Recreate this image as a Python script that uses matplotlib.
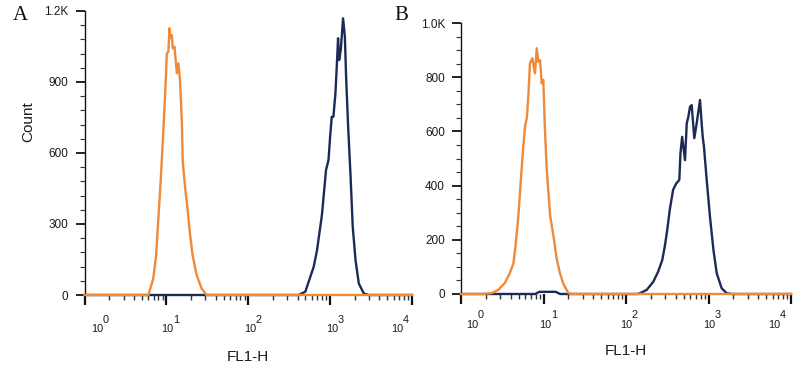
import numpy as np
import matplotlib
matplotlib.use('Agg')
import matplotlib.pyplot as plt
from matplotlib.ticker import FixedLocator, FixedFormatter, LogLocator, NullFormatter, MultipleLocator
import matplotlib.transforms as mtransforms

plt.rcParams['font.family'] = ['Liberation Sans', 'DejaVu Sans']

# ---------------- data (FL1-H channel value, count) ----------------
# Panel A
a_orange_x = [1, 6.03, 6.92, 7.50, 7.94, 8.51, 9.04, 9.48, 9.93, 10.12, 10.59, 10.89, 11.32,
              11.64, 11.97, 12.56, 12.88, 13.43, 14.06, 14.72, 15.45, 15.85, 16.98, 18.11,
              19.50, 20.89, 23.44, 26.92, 30.90, 10000]
a_orange_y = [0, 0, 70, 169, 310, 479, 648, 789, 943, 1021, 1028, 1127, 1085,
              1098, 1042, 1049, 1007, 937, 979, 901, 732, 563, 451, 366,
              253, 169, 84, 28, 0, 0]
a_navy_x = [1, 412, 498, 573, 631, 692, 759, 794, 832, 891, 955, 1000, 1047, 1096, 1161,
            1216, 1250, 1288, 1349, 1439, 1514, 1567, 1660, 1778, 1888, 2042, 2239,
            2570, 2951, 10000]
a_navy_y = [0, 0, 14, 77, 120, 190, 289, 338, 415, 528, 570, 669, 753, 753, 852,
            993, 1085, 993, 1035, 1169, 1091, 922, 711, 500, 289, 148, 49,
            7, 0, 0]

# Panel B
b_orange_x = [1, 1.78, 2.34, 2.82, 3.39, 3.89, 4.32, 4.57, 4.95, 5.25, 5.60, 5.97, 6.31,
              6.61, 6.85, 7.31, 7.89, 8.28, 8.65, 9.08, 9.51, 9.95, 10.42, 10.96,
              12.02, 13.18, 14.45, 15.85, 17.38, 19.95, 21.38, 10000]
b_orange_y = [0, 0, 3, 15, 40, 76, 113, 175, 285, 396, 519, 617, 654,
              753, 851, 870, 814, 907, 857, 863, 777, 790, 605, 458,
              290, 215, 130, 76, 38, 4, 0, 0]
b_navy_x = [1, 7.94, 8.91, 14.1, 15.85, 138, 148, 178, 214, 245, 275, 295, 316, 339, 372,
            407, 443, 457, 479, 519, 545, 570, 597, 625, 673, 719, 789, 826,
            851, 881, 951, 1042, 1148, 1259, 1445, 1660, 1905, 10000]
b_navy_y = [0, 0, 8, 8, 0, 0, 3, 15, 45, 82, 125, 175, 236, 310, 384,
            408, 421, 519, 580, 494, 630, 654, 691, 697, 575, 630, 716, 630,
            580, 544, 421, 285, 162, 76, 21, 3, 0, 0]

x_decades = [0, 1, 2, 3, 4]
x_base_labels = ['10', '10', '10', '10', '10']
x_exponents = ['0', '1', '2', '3', '4']
a_yticks = [0, 300, 600, 900, 1200]
a_yticklabels = ['0', '300', '600', '900', '1.2K']
b_yticks = [0, 200, 400, 600, 800, 1000]
b_yticklabels = ['0', '200', '400', '600', '800', '1.0K']

ORANGE = '#EE8A3A'
NAVY = '#1C2A56'
TXT = '#1a1a1a'

W, H = 800, 368
DPI = 100
fig = plt.figure(figsize=(W / DPI, H / DPI), dpi=DPI)

def px_axes(l, r, t, b):
    return [l / W, 1 - b / H, (r - l) / W, (b - t) / H]

axA = fig.add_axes(px_axes(84.5, 412, 11, 295))
axB = fig.add_axes(px_axes(461, 791, 23, 294))

XFS = 7.8

def style(ax, ymax, yticks, ylabels, yminor, xpad_px, label_dx, exp_dy_px):
    ax.set_xscale('log')
    ax.set_xlim(1, 1e4)
    ax.set_ylim(0, ymax)
    for s in ['top', 'right', 'bottom']:
        ax.spines[s].set_visible(False)
    ax.spines['left'].set_linewidth(1.0)
    ax.spines['left'].set_color('#111111')
    ax.yaxis.set_major_locator(FixedLocator(yticks))
    ax.yaxis.set_major_formatter(FixedFormatter(ylabels))
    ax.yaxis.set_minor_locator(MultipleLocator(yminor))
    ax.xaxis.set_major_locator(FixedLocator([10 ** d for d in x_decades]))
    ax.xaxis.set_major_formatter(FixedFormatter(x_base_labels))
    ax.xaxis.set_minor_locator(LogLocator(base=10, subs=np.arange(2, 10), numticks=20))
    ax.xaxis.set_minor_formatter(NullFormatter())
    ax.tick_params(axis='y', which='major', length=6.5, width=1.3, pad=5, labelsize=8.5,
                   color='#111111', labelcolor=TXT)
    ax.tick_params(axis='y', which='minor', length=3.6, width=0.8, color='#333333')
    ax.tick_params(axis='x', which='major', length=7.2, width=1.6, pad=xpad_px * 72 / DPI,
                   labelsize=XFS, color='#111111', labelcolor=TXT)
    ax.tick_params(axis='x', which='minor', length=3.6, width=1.0, color='#333333')
    labs = ax.get_xticklabels()
    for lab, dx in zip(labs, label_dx):
        off = mtransforms.ScaledTranslation(dx / DPI, 0, fig.dpi_scale_trans)
        lab.set_transform(lab.get_transform() + off)
    # superscript exponents next to each "10"
    for d, e, dx in zip(x_decades, x_exponents, label_dx):
        ax.annotate(e, xy=(10 ** d, 0), xycoords=('data', 'axes fraction'),
                    xytext=((dx + 8.5) * 72 / DPI, -exp_dy_px * 72 / DPI),
                    textcoords='offset points', ha='center', va='center',
                    fontsize=XFS, color=TXT, annotation_clip=False)

style(axA, 1200, a_yticks, a_yticklabels, 60, 19.5, [13, 1, 1.5, 2.5, -14.5], 25)
style(axB, 1000, b_yticks, b_yticklabels, 50, 15.5, [11, 2, 0, 0.5, -17], 20.5)

LW = 1.7
axA.plot(a_navy_x, a_navy_y, color=NAVY, lw=LW, clip_on=False, zorder=3)
axA.plot(a_orange_x, a_orange_y, color=ORANGE, lw=LW, clip_on=False, zorder=4)
axB.plot(b_navy_x, b_navy_y, color=NAVY, lw=LW, clip_on=False, zorder=3)
axB.plot(b_orange_x, b_orange_y, color=ORANGE, lw=LW, clip_on=False, zorder=4)

axA.set_xlabel('FL1-H', fontsize=11, color=TXT)
axA.xaxis.set_label_coords(0.5, -0.194)
axB.set_xlabel('FL1-H', fontsize=11, color=TXT)
axB.xaxis.set_label_coords(0.5, -0.185)
axA.set_ylabel('Count', fontsize=11, color=TXT)
axA.yaxis.set_label_coords(-0.15, 0.609)

fig.text(20 / W, 1 - 16 / H, 'A', family=['Liberation Serif', 'DejaVu Serif'], fontsize=15,
         ha='center', va='center', color='#111111')
fig.text(401 / W, 1 - 16 / H, 'B', family=['Liberation Serif', 'DejaVu Serif'], fontsize=15,
         ha='center', va='center', color='#111111')

fig.savefig('out.png', dpi=DPI)
